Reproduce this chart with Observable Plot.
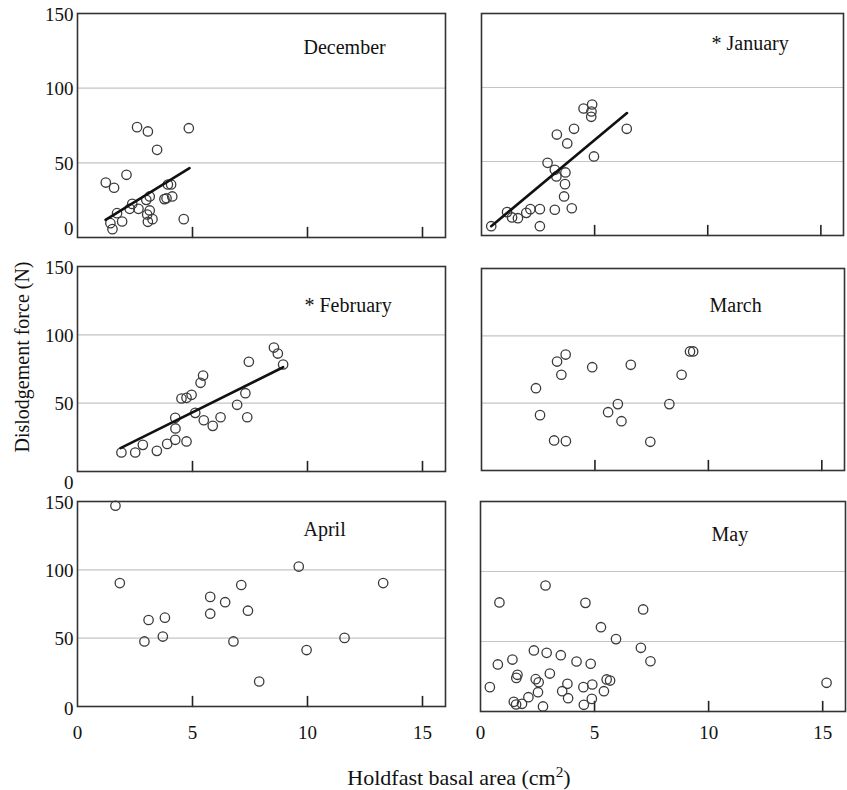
<!DOCTYPE html>
<html>
<head>
<meta charset="utf-8">
<script src="https://cdn.jsdelivr.net/npm/d3@7"></script>
<script src="https://cdn.jsdelivr.net/npm/@observablehq/plot@0.6"></script>
<style>
  html, body { margin: 0; padding: 0; background: #fff; }
  #chart { position: relative; width: 847px; height: 790px; font-family: "Liberation Serif", "DejaVu Serif", serif; color: #111; }
  #chart svg { position: absolute; overflow: visible; }
  .ytitle { position: absolute; left: 22px; top: 357px; transform: translate(-50%, -50%) rotate(-90deg); font-size: 20px; white-space: nowrap; }
  .xtitle { position: absolute; left: 459px; top: 778px; transform: translate(-50%, -50%); font-size: 22px; white-space: nowrap; }
</style>
</head>
<body>
<div id="chart"></div>
<script>
// ---- data ----
const months = ["December", "January", "February", "March", "April", "May"];
const monthLabels = ["December", "* January", "* February", "March", "April", "May"];
const yTicksUpper = [50, 100, 150];
const yTickZero = [0];
const gridValues = [50, 100];
const xTicks = [0, 5, 10, 15];
const innerTicks = [5, 10, 15];

const decX = [2.59, 3.06, 4.84, 3.46, 2.13, 1.23, 1.59, 3.93, 4.07, 3.14, 2.99, 3.78, 3.87, 4.12, 2.38, 2.27, 2.65, 1.72, 3.14, 3.03, 3.26, 3.06, 1.94, 1.43, 1.52, 4.62];
const decY = [73.9, 71.0, 73.2, 58.7, 42.0, 36.8, 33.3, 35.5, 35.5, 27.5, 25.2, 25.7, 26.3, 27.5, 22.5, 19.2, 19.2, 16.3, 18.1, 15.4, 12.3, 10.5, 10.7, 9.6, 5.6, 12.3];
const decLineX = [1.22, 4.87];
const decLineY = [11.8, 46.4];

const janX = [0.43, 1.13, 1.35, 1.61, 1.98, 2.16, 2.58, 2.58, 3.24, 3.99, 3.65, 3.69, 3.31, 3.24, 3.71, 2.92, 4.97, 3.79, 3.33, 4.09, 6.42, 4.51, 4.89, 4.86, 4.85];
const janY = [6.3, 15.8, 12.2, 11.7, 15.3, 17.8, 17.8, 6.3, 17.4, 18.4, 26.4, 34.7, 39.9, 44.4, 42.6, 49.1, 53.4, 62.2, 68.2, 72.1, 72.1, 85.8, 88.5, 83.8, 80.2];
const janLineX = [0.43, 6.43];
const janLineY = [6.3, 82.7];

const febX = [1.91, 2.51, 2.84, 3.45, 3.90, 4.25, 4.74, 4.26, 4.25, 5.12, 5.49, 5.88, 6.22, 6.94, 7.38, 7.30, 7.45, 4.52, 4.74, 4.96, 5.35, 5.46, 8.54, 8.71, 8.94];
const febY = [13.9, 13.9, 19.5, 15.1, 20.2, 23.2, 22.0, 31.5, 39.3, 42.9, 37.5, 33.4, 39.7, 48.8, 39.7, 57.3, 80.3, 53.4, 53.9, 56.1, 64.9, 70.2, 90.7, 86.3, 78.3];
const febLineX = [1.87, 8.94];
const febLineY = [17.1, 76.3];

const marX = [2.40, 2.58, 3.20, 3.72, 3.33, 3.71, 3.52, 4.88, 5.58, 6.01, 6.17, 6.58, 7.44, 8.28, 8.82, 9.19, 9.33];
const marY = [61.1, 41.1, 22.3, 21.8, 80.9, 86.1, 71.1, 76.7, 43.3, 49.3, 36.6, 78.5, 21.3, 49.3, 71.1, 88.4, 88.4];

const aprX = [1.65, 1.84, 3.09, 3.80, 2.91, 3.71, 5.77, 5.77, 6.42, 7.12, 7.41, 6.78, 7.90, 9.62, 9.96, 11.61, 13.29];
const aprY = [146.9, 90.3, 63.3, 65.0, 47.6, 51.2, 80.2, 67.9, 76.3, 88.9, 70.1, 47.6, 18.3, 102.4, 41.3, 50.2, 90.3];

const mayX = [0.41, 0.76, 0.83, 1.40, 1.57, 1.62, 1.46, 1.56, 1.82, 2.10, 2.34, 2.42, 2.55, 2.52, 2.74, 2.85, 2.90, 3.04, 3.52, 3.58, 3.81, 3.84, 4.21, 4.51, 4.53, 4.60, 4.83, 4.90, 4.88, 5.28, 5.41, 5.53, 5.68, 5.94, 7.03, 7.13, 7.45, 15.17];
const mayY = [17.4, 33.6, 77.9, 37.1, 24.0, 26.2, 6.9, 5.0, 5.5, 10.2, 43.6, 23.1, 20.9, 13.8, 3.6, 90.0, 41.9, 27.1, 40.2, 14.5, 19.8, 9.5, 35.7, 17.4, 4.8, 77.6, 34.1, 19.3, 9.0, 60.2, 14.5, 22.9, 22.1, 51.7, 45.5, 72.9, 35.9, 20.5];

const seriesX = [decX, janX, febX, marX, aprX, mayX];
const seriesY = [decY, janY, febY, marY, aprY, mayY];
const linesX = [decLineX, janLineX, febLineX, null, null, null];
const linesY = [decLineY, janLineY, febLineY, null, null, null];

// ---- layout (frame boxes in page pixels: left, top, right, bottom) ----
const frames = [
  [77, 13, 445, 237],
  [481, 13, 843, 235],
  [77, 266, 445, 471],
  [481, 268, 844, 470],
  [77, 501, 445, 706],
  [480, 501, 845, 711]
];
const labelOffsets = [[226, 34], [230, 30], [227, 39], [228, 37], [226, 28], [231, 33]];
const zeroLabelDy = [-9, 0, 11, 0, 2, 0];

const chart = document.getElementById("chart");
const tickShape = { draw(context, l) { context.moveTo(0, 0); context.lineTo(0, -l); } };

months.forEach((m, i) => {
  const [fl, ft, fr, fb] = frames[i];
  const isLeft = i % 2 === 0;
  const isBottom = i >= 4;
  const mL = isLeft ? 70 : 6, mT = 6, mR = 4, mB = isBottom ? 40 : 18;
  const pts = seriesX[i].map((x, j) => ({x, y: seriesY[i][j]}));
  const marks = [
    Plot.ruleY(gridValues, {stroke: "#c4c4c4", strokeWidth: 1.2}),
    Plot.vector(innerTicks, {x: d => d, y: 0, length: 10, rotate: 0, shape: tickShape, anchor: "start", stroke: "#222", strokeWidth: 1.6}),
    Plot.dot(pts, {x: "x", y: "y", r: 4.7, stroke: "#3a3a3a", strokeWidth: 1.3, fill: "none"}),
    Plot.frame({stroke: "#333", strokeWidth: 1.6}),
    Plot.text([monthLabels[i]], {frameAnchor: "top-left", dx: labelOffsets[i][0], dy: labelOffsets[i][1], text: d => d, textAnchor: "start", lineAnchor: "middle", fontSize: 20, fill: "#111"})
  ];
  if (linesX[i]) {
    const lp = linesX[i].map((x, j) => ({x, y: linesY[i][j]}));
    marks.push(Plot.line(lp, {x: "x", y: "y", stroke: "#111", strokeWidth: 2.6}));
  }
  if (isLeft) {
    marks.push(Plot.axisY({ticks: yTicksUpper, tickSize: 0, tickPadding: 4, fontSize: 19, label: null, fill: "#111", dy: 1}));
    marks.push(Plot.axisY({ticks: yTickZero, tickSize: 0, tickPadding: 4, fontSize: 19, label: null, fill: "#111", dy: zeroLabelDy[i]}));
  }
  if (isBottom) {
    marks.push(Plot.axisX({ticks: xTicks, tickSize: 0, tickPadding: isLeft ? 19 : 14, fontSize: 19, label: null, fill: "#111"}));
  }
  const svg = Plot.plot({
    width: (fr - fl) + mL + mR,
    height: (fb - ft) + mT + mB,
    marginLeft: mL, marginRight: mR, marginTop: mT, marginBottom: mB,
    x: {domain: [0, 16], axis: null},
    y: {domain: [0, 150], axis: null},
    style: {fontFamily: "Liberation Serif", fontSize: "19px", color: "#111", background: "transparent", overflow: "visible"},
    marks
  });
  svg.style.left = (fl - mL) + "px";
  svg.style.top = (ft - mT) + "px";
  chart.appendChild(svg);
});

const yt = document.createElement("div");
yt.className = "ytitle";
yt.textContent = "Dislodgement force (N)";
chart.appendChild(yt);

const xt = document.createElement("div");
xt.className = "xtitle";
xt.innerHTML = "Holdfast basal area (cm<sup style=\"font-size:0.7em; vertical-align: 0.5em; line-height:0\">2</sup>)";
chart.appendChild(xt);
</script>
</body>
</html>
